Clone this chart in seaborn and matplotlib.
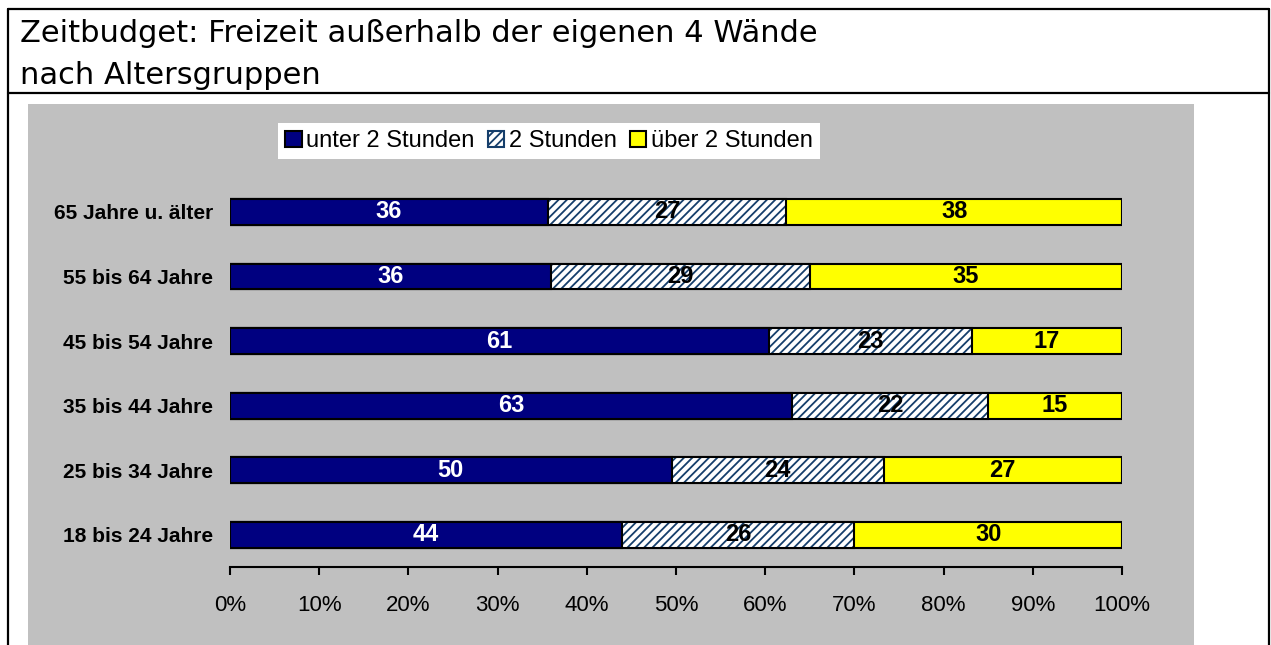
import numpy as np
import pandas as pd
import matplotlib
matplotlib.use("Agg")
import matplotlib.pyplot as plt
from matplotlib.patches import Patch, Rectangle
from matplotlib.lines import Line2D
import seaborn as sns

# data (values per age group, rows sum to ~100)
groups = ["65 Jahre u. älter", "55 bis 64 Jahre", "45 bis 54 Jahre",
          "35 bis 44 Jahre", "25 bis 34 Jahre", "18 bis 24 Jahre"]
unter_2 = [36, 36, 61, 63, 50, 44]
genau_2 = [27, 29, 23, 22, 24, 26]
ueber_2 = [38, 35, 17, 15, 27, 30]
series_names = ["unter 2 Stunden", "2 Stunden", "über 2 Stunden"]
x_ticks = [0, 10, 20, 30, 40, 50, 60, 70, 80, 90, 100]
title_lines = ["Zeitbudget: Freizeit außerhalb der eigenen 4 Wände",
               "nach Altersgruppen"]

NAVY = "#000080"
YELLOW = "#FFFF00"
HATCH_COL = "#153E6B"
GRAY = "#C0C0C0"

sns.set_style("white")
plt.rcParams["font.family"] = ["Liberation Sans", "DejaVu Sans"]
plt.rcParams["text.color"] = "black"
plt.rcParams["hatch.linewidth"] = 1.3

# 100% stacked -> normalise each row
df = pd.DataFrame({"gruppe": groups, "a": unter_2, "b": genau_2, "c": ueber_2})
total = df[["a", "b", "c"]].sum(axis=1)
df["pa"] = df["a"] / total * 100
df["pb"] = df["b"] / total * 100
df["pc"] = df["c"] / total * 100
df["cum1"] = df["pa"]
df["cum2"] = df["pa"] + df["pb"]
df["cum3"] = df["cum2"] + df["pc"]

fig = plt.figure(figsize=(12.71, 6.45), dpi=100)
fig.add_artist(Rectangle((28 / 1271, 0), (1194 - 28) / 1271, 541 / 645,
                         transform=fig.transFigure, facecolor=GRAY,
                         edgecolor="none", zorder=-1))

ax = fig.add_axes([230 / 1271, 0.1205, 892 / 1271, 0.601])
ax.set_facecolor("none")

bw = 0.4
# draw cumulative bars back to front
sns.barplot(data=df, x="cum3", y="gruppe", orient="h", color=YELLOW, saturation=1,
            edgecolor="black", linewidth=1.5, width=bw, errorbar=None, ax=ax)
sns.barplot(data=df, x="cum2", y="gruppe", orient="h", color="white", saturation=1,
            hatch="////", edgecolor=HATCH_COL, linewidth=0, width=bw,
            errorbar=None, ax=ax)
sns.barplot(data=df, x="cum2", y="gruppe", orient="h", fill=False, color="black",
            linewidth=1.5, width=bw, errorbar=None, ax=ax)
sns.barplot(data=df, x="cum1", y="gruppe", orient="h", color=NAVY, saturation=1,
            edgecolor="black", linewidth=1.5, width=bw, errorbar=None, ax=ax)

# segment labels
for i, row in df.iterrows():
    ax.text(row["pa"] / 2, i, str(row["a"]), ha="center", va="center",
            color="white", fontsize=17, fontweight="bold")
    ax.text(row["cum1"] + row["pb"] / 2, i, str(row["b"]), ha="center", va="center",
            color="black", fontsize=17, fontweight="bold")
    ax.text(row["cum2"] + row["pc"] / 2, i, str(row["c"]), ha="center", va="center",
            color="black", fontsize=17, fontweight="bold")

ax.set_xlim(0, 100)
ax.set_ylim(len(groups) - 0.5, -0.5)
ax.set_xticks(x_ticks)
ax.set_xticklabels([f"{t}%" for t in x_ticks])
ax.set_xlabel("")
ax.set_ylabel("")
sns.despine(ax=ax, left=True, top=True, right=True)
ax.spines["bottom"].set_color("black")
ax.spines["bottom"].set_linewidth(1.5)
ax.tick_params(axis="x", bottom=True, direction="out", length=6, width=1.5,
               pad=14, labelsize=16, colors="black")
ax.tick_params(axis="y", left=False, length=0, pad=12, labelsize=15,
               labelcolor="black")
for lab in ax.get_yticklabels():
    lab.set_fontweight("bold")

handles = [
    Patch(facecolor=NAVY, edgecolor="black", linewidth=1.5),
    Patch(facecolor="white", edgecolor=HATCH_COL, hatch="////", linewidth=1.5),
    Patch(facecolor=YELLOW, edgecolor="black", linewidth=1.5),
]
leg = fig.legend(handles, series_names, loc="center", bbox_to_anchor=(0.432, 0.781),
                 ncol=3, frameon=True, facecolor="white", edgecolor="none",
                 fancybox=False, framealpha=1, fontsize=17, handlelength=0.7,
                 handleheight=0.7, handletextpad=0.2, columnspacing=0.55,
                 borderpad=0.3, labelcolor="black")

# title box
for t, yb in zip(title_lines, [42, 84]):
    fig.text(20 / 1271, 1 - yb / 645, t, ha="left", va="baseline",
             fontsize=22, family="DejaVu Sans", color="black")

def px_line(x0, y0, x1, y1):
    fig.add_artist(Line2D([x0 / 1271, x1 / 1271], [1 - y0 / 645, 1 - y1 / 645],
                          transform=fig.transFigure, color="black", linewidth=1.6))

px_line(8, 9, 1269, 9)
px_line(8, 93, 1269, 93)
px_line(8, 9, 8, 645)
px_line(1269, 9, 1269, 645)

fig.savefig("out.png", dpi=100)
